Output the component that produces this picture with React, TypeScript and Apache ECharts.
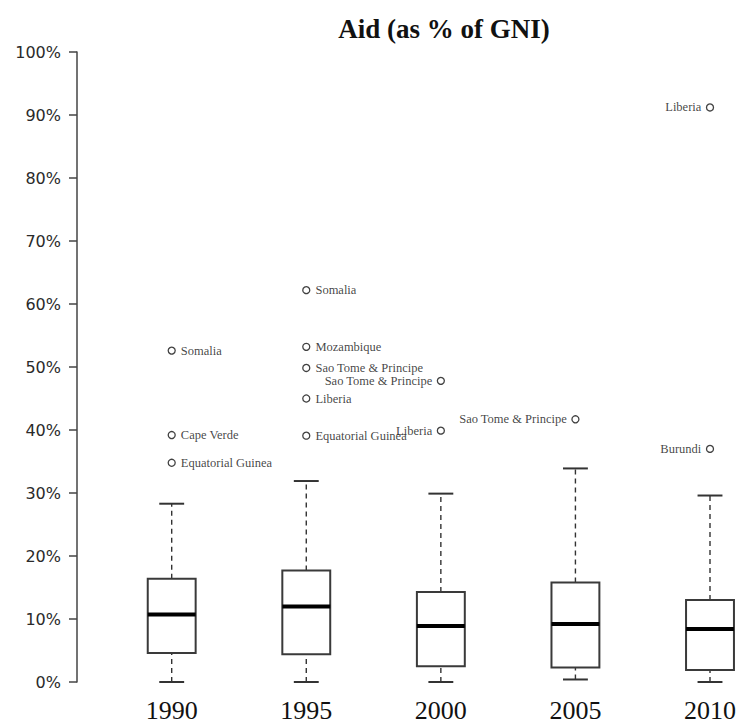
import React, { useEffect, useRef } from "react";
import * as echarts from "echarts";

const years = ["1990", "1995", "2000", "2005", "2010"];
const whiskerLow = [0, 0, 0, 0.4, 0];
const quartile1 = [4.6, 4.4, 2.5, 2.3, 1.9];
const medians = [10.7, 12.0, 8.9, 9.2, 8.4];
const quartile3 = [16.4, 17.7, 14.3, 15.8, 13.0];
const whiskerHigh = [28.3, 31.9, 29.9, 33.9, 29.6];

const outlierYear = ["1990", "1990", "1990", "1995", "1995", "1995", "1995", "1995", "2000", "2000", "2005", "2010", "2010"];
const outlierValue = [52.6, 39.2, 34.8, 62.2, 53.2, 49.85, 45.0, 39.1, 47.8, 39.9, 41.7, 91.2, 37.0];
const outlierName = [
  "Somalia",
  "Cape Verde",
  "Equatorial Guinea",
  "Somalia",
  "Mozambique",
  "Sao Tome & Principe",
  "Liberia",
  "Equatorial Guinea",
  "Sao Tome & Principe",
  "Liberia",
  "Sao Tome & Principe",
  "Liberia",
  "Burundi",
];

const yTicks = [0, 10, 20, 30, 40, 50, 60, 70, 80, 90, 100];

export default function App() {
  const ref = useRef<HTMLDivElement>(null);

  useEffect(() => {
    document.body.style.margin = "0";
    const chart = echarts.init(ref.current!, null, { renderer: "svg" });

    const boxData = years.map((_, i) => [i, whiskerLow[i], quartile1[i], medians[i], quartile3[i], whiskerHigh[i]]);

    const outlierData = outlierValue.map((v, i) => {
      const idx = years.indexOf(outlierYear[i]);
      const right = idx <= 1;
      return {
        value: [idx, v],
        name: outlierName[i],
        label: {
          position: right ? "right" : "left",
          distance: right ? 5 : 4.5,
        },
      };
    });

    const option: any = {
      animation: false,
      backgroundColor: "#ffffff",
      title: {
        text: "Aid (as % of GNI)",
        left: 439,
        top: 10,
        textAlign: "center",
        textStyle: {
          fontFamily: "Liberation Serif",
          fontWeight: "bold",
          fontSize: 27,
          color: "#111",
        },
      },
      grid: { left: 171.7, top: 52, width: 539.5, height: 631.5 },
      xAxis: {
        type: "category",
        data: years,
        boundaryGap: false,
        axisLine: { show: false },
        axisTick: { show: false },
        splitLine: { show: false },
        axisLabel: {
          fontFamily: "Liberation Serif",
          fontSize: 26,
          color: "#111",
          margin: 15,
        },
      },
      yAxis: {
        type: "value",
        min: 0,
        max: 100,
        interval: 10,
        offset: 94.7,
        axisLine: { show: true, lineStyle: { color: "#444", width: 1.5 } },
        axisTick: { show: true, length: 8, lineStyle: { color: "#444", width: 1.5 } },
        splitLine: { show: false },
        axisLabel: {
          fontFamily: "DejaVu Sans",
          fontSize: 16,
          color: "#2a2a2a",
          margin: 16,
          formatter: (v: number) => (yTicks.includes(v) ? v + "%" : ""),
        },
      },
      series: [
        {
          type: "custom",
          data: boxData,
          encode: { x: 0, y: [1, 2, 3, 4, 5] },
          clip: false,
          renderItem: (params: any, api: any) => {
            const idx = api.value(0);
            const band = api.size([1, 0])[0];
            const bw = band * 0.356;
            const cw = band * 0.185;
            const pLo = api.coord([idx, api.value(1)]);
            const pQ1 = api.coord([idx, api.value(2)]);
            const pMed = api.coord([idx, api.value(3)]);
            const pQ3 = api.coord([idx, api.value(4)]);
            const pHi = api.coord([idx, api.value(5)]);
            const cx = pMed[0];
            const lineColor = "#333";
            return {
              type: "group",
              children: [
                {
                  type: "line",
                  shape: { x1: cx, y1: pQ3[1], x2: cx, y2: pHi[1] },
                  style: { stroke: lineColor, lineWidth: 1.4, lineDash: [5, 4] },
                },
                {
                  type: "line",
                  shape: { x1: cx, y1: pLo[1], x2: cx, y2: pQ1[1] },
                  style: { stroke: lineColor, lineWidth: 1.4, lineDash: [5, 4] },
                },
                {
                  type: "line",
                  shape: { x1: cx - cw / 2, y1: pHi[1], x2: cx + cw / 2, y2: pHi[1] },
                  style: { stroke: lineColor, lineWidth: 2 },
                },
                {
                  type: "line",
                  shape: { x1: cx - cw / 2, y1: pLo[1], x2: cx + cw / 2, y2: pLo[1] },
                  style: { stroke: lineColor, lineWidth: 2 },
                },
                {
                  type: "rect",
                  shape: { x: cx - bw / 2, y: pQ3[1], width: bw, height: pQ1[1] - pQ3[1] },
                  style: { fill: "#fff", stroke: "#3a3a3a", lineWidth: 2 },
                },
                {
                  type: "line",
                  shape: { x1: cx - bw / 2, y1: pMed[1], x2: cx + bw / 2, y2: pMed[1] },
                  style: { stroke: "#000", lineWidth: 4 },
                },
              ],
            };
          },
          z: 2,
        },
        {
          type: "scatter",
          data: outlierData,
          symbol: "circle",
          symbolSize: 7,
          clip: false,
          itemStyle: { color: "#fff", borderColor: "#111", borderWidth: 1.3 },
          label: {
            show: true,
            formatter: (p: any) => p.name,
            fontFamily: "Liberation Serif",
            fontSize: 12.5,
            color: "#111",
          },
          z: 3,
        },
      ],
    };

    chart.setOption(option);
    return () => chart.dispose();
  }, []);

  return <div ref={ref} style={{ width: 739, height: 723 }} />;
}
